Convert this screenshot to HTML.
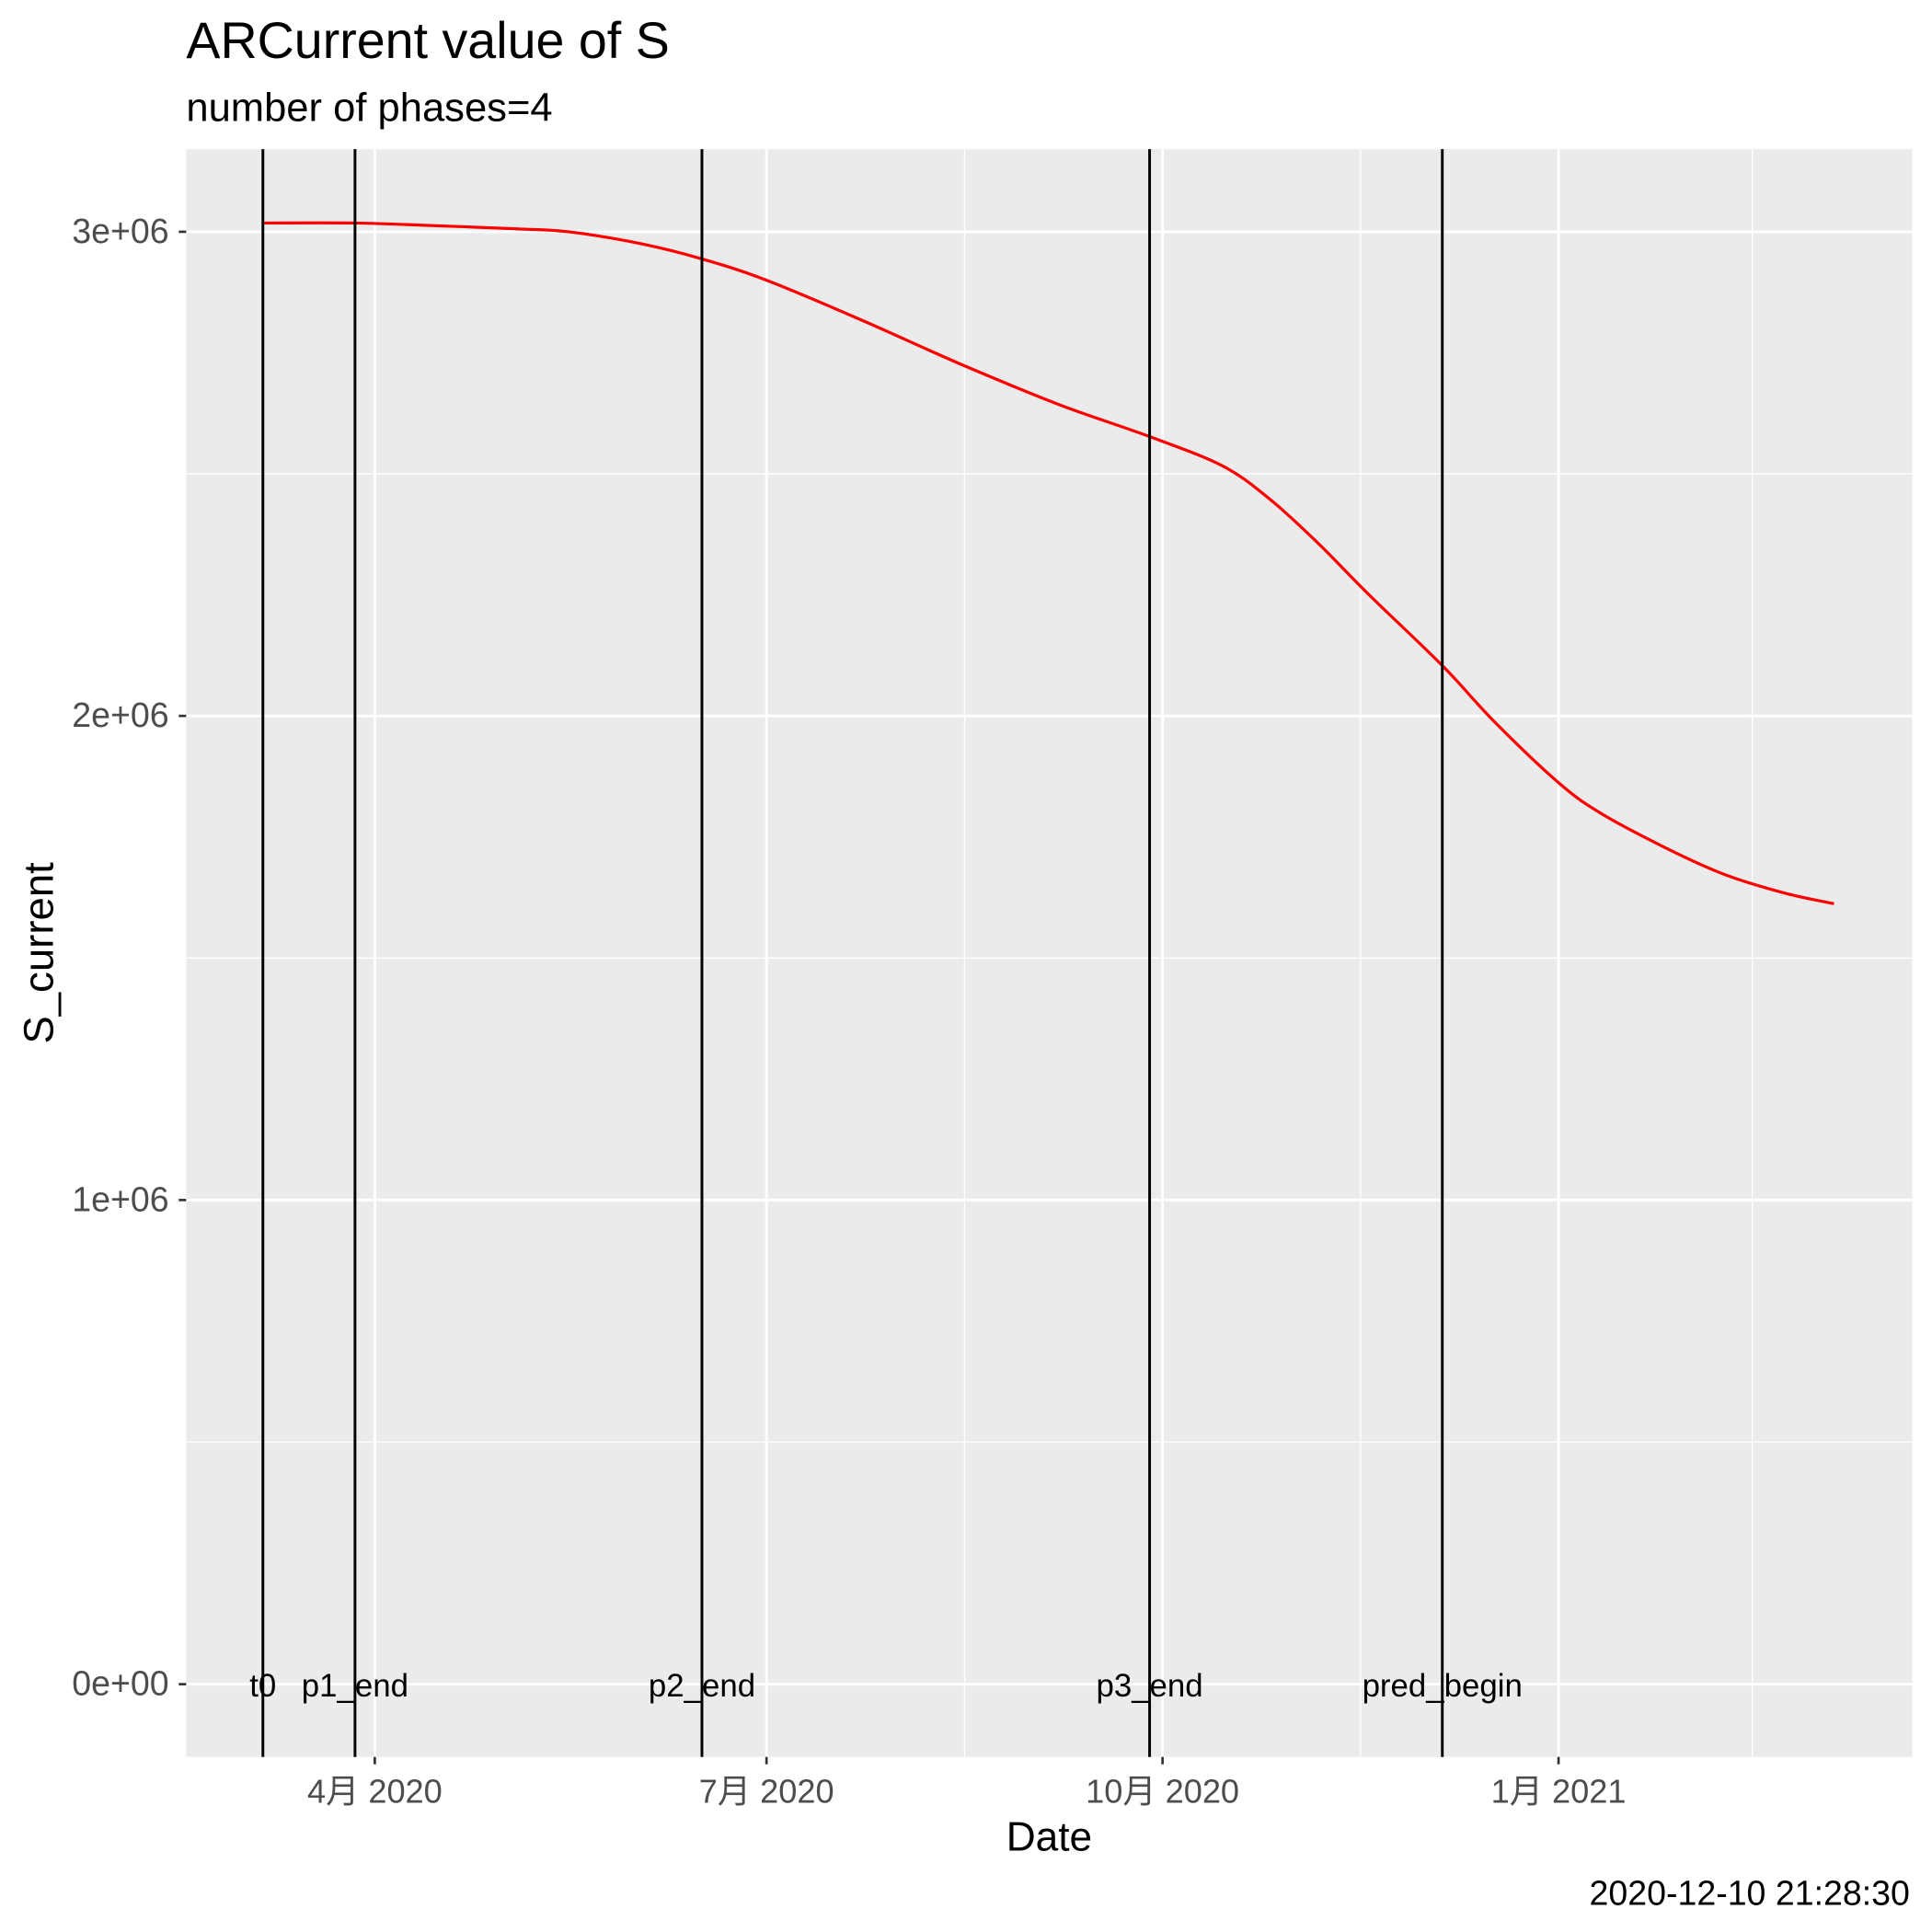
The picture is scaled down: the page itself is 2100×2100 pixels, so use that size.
<!DOCTYPE html>
<html><head><meta charset="utf-8"><style>html,body{margin:0;padding:0;background:#fff}svg{display:block}</style></head>
<body>
<svg id="chart" width="2100" height="2100" viewBox="0 0 1567 1567" xmlns="http://www.w3.org/2000/svg" font-family="'Liberation Sans','Noto Sans CJK SC',sans-serif">
<text x="151" y="47" font-size="41.5" fill="#000">ARCurrent value of S</text>
<text x="151" y="98" font-size="32.5" fill="#000">number of phases=4</text>
<rect x="151" y="121" width="1400" height="1304" fill="#ebebeb"/>
<g id="grid"></g><g id="marks"></g><g id="axes"></g>
<text x="851" y="1501" font-size="33" text-anchor="middle">Date</text>
<text transform="translate(43,773) rotate(-90)" font-size="34" text-anchor="middle">S_current</text>
<text x="1549" y="1545" font-size="28" text-anchor="end">2020-12-10 21:28:30</text>
</svg>
<script>
// days relative to 2020-04-01
const yTicks=[0,1e6,2e6,3e6];
const yTickLabels=["0e+00","1e+06","2e+06","3e+06"];
const xTickDays=[0,91,183,275];
const xTickLabels=["4月 2020","7月 2020","10月 2020","1月 2021"];
const vlineDays=[-26,-4.6,76,180,248];
const vlineLabels=["t0","p1_end","p2_end","p3_end","pred_begin"];
const seriesDays=[-26,-4.6,13,33,45,62,76,91,113,136,159,180,197,208,219,231,248,260,275,285,300,314,328,339];
const seriesValues=[3.018e6,3.018e6,3.013e6,3.006e6,3.0e6,2.975e6,2.944e6,2.90e6,2.818e6,2.727e6,2.643e6,2.577e6,2.516e6,2.447e6,2.358e6,2.25e6,2.104e6,1.989e6,1.862e6,1.798e6,1.727e6,1.671e6,1.633e6,1.612e6];
var NS="http://www.w3.org/2000/svg";
function X(d){return 304+d*3.4912;}
function Y(v){return 1366-v*392.67e-6;}
function mk(tag,attrs,parent,text){var e=document.createElementNS(NS,tag);for(var k in attrs)e.setAttribute(k,attrs[k]);if(text!==undefined)e.textContent=text;document.getElementById(parent).appendChild(e);return e;}
for(var i=0;i<yTicks.length;i++){
  if(i<yTicks.length-1){var m=(yTicks[i]+yTicks[i+1])/2;var g=mk('line',{x1:151,x2:1551,y1:Y(m),y2:Y(m),stroke:'#fff','stroke-width':1},'grid');
  
  }
  var l=mk('line',{x1:151,x2:1551,y1:Y(yTicks[i]),y2:Y(yTicks[i]),stroke:'#fff','stroke-width':2.2},'grid');
  
  
  var t=mk('line',{x1:145,x2:151,y1:Y(yTicks[i]),y2:Y(yTicks[i]),stroke:'#333','stroke-width':2},'axes');
  
  
  var tl=mk('text',{x:137,y:Y(yTicks[i])+9,'font-size':28,fill:'#4d4d4d','text-anchor':'end'},'axes',yTickLabels[i]);
  
  
}
var minorX=[-45.5,137,229,320];
for(var j=0;j<minorX.length;j++){var g2=mk('line',{x1:X(minorX[j]),x2:X(minorX[j]),y1:121,y2:1425,stroke:'#fff','stroke-width':1},'grid');
  
  }
for(var i2=0;i2<xTickDays.length;i2++){
  var x=X(xTickDays[i2]);
  var l2=mk('line',{x1:x,x2:x,y1:121,y2:1425,stroke:'#fff','stroke-width':2.2},'grid');
  
  
  var t2=mk('line',{x1:x,x2:x,y1:1425,y2:1431,stroke:'#333','stroke-width':2},'axes');
  
  
  var tl2=mk('text',{x:x,y:1462,'font-size':27,fill:'#4d4d4d','text-anchor':'middle'},'axes',xTickLabels[i2]);
  
  
}
// smooth catmull-rom path through data points
var P=seriesDays.map(function(d,i){return [X(d),Y(seriesValues[i])];});
var dstr='M'+P[0][0].toFixed(1)+','+P[0][1].toFixed(1);
for(var q=0;q<P.length-1;q++){
  var p0=P[Math.max(q-1,0)],p1=P[q],p2=P[q+1],p3=P[Math.min(q+2,P.length-1)];
  var c1x=p1[0]+(p2[0]-p0[0])/6,c1y=p1[1]+(p2[1]-p0[1])/6;
  var c2x=p2[0]-(p3[0]-p1[0])/6,c2y=p2[1]-(p3[1]-p1[1])/6;
  dstr+=' C'+c1x.toFixed(1)+','+c1y.toFixed(1)+' '+c2x.toFixed(1)+','+c2y.toFixed(1)+' '+p2[0].toFixed(1)+','+p2[1].toFixed(1);
}
var pl=mk('path',{d:dstr,fill:'none',stroke:'#ff0000','stroke-width':2.4,'stroke-linejoin':'round'},'marks');


for(var k=0;k<vlineDays.length;k++){
  var xv=X(vlineDays[k]);
  var l3=mk('line',{x1:xv,x2:xv,y1:121,y2:1425,stroke:'#000','stroke-width':2.2},'marks');
  
  
  var t3=mk('text',{x:xv,y:1376,'font-size':26,fill:'#000','text-anchor':'middle'},'marks',vlineLabels[k]);
  
  
}
</script>
</body></html>
